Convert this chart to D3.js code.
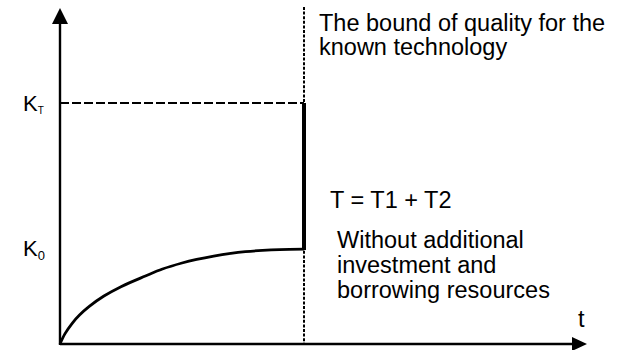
<!DOCTYPE html>
<html>
<head>
<meta charset="utf-8">
<script src="https://cdn.jsdelivr.net/npm/d3@7"></script>
<style>
  html, body { margin: 0; padding: 0; background: #fff; }
  #chart { width: 617px; height: 350px; }
  text { font-family: "Liberation Sans", Arial, sans-serif; fill: #000; }
</style>
</head>
<body>
<div id="chart"></div>
<script>
// time points and quality level of the curve (without extra investment)
const tValues = [0, 0.2, 0.5, 0.8, 1.2, 1.8, 2.5, 3.5, 4.2, 5, 5.6, 6.3, 7, 7.6, 8.3, 9, 10];
const kValues = [0, 4.2, 8.6, 12.0, 15.6, 19.9, 23.8, 28.2, 31.1, 33.6, 35.1, 36.5, 37.6, 38.3, 38.85, 39.2, 39.4];
const kLevels = [{ name: "K", sub: "T", value: 100 }, { name: "K", sub: "0", value: 39.4 }];
const tBound = 10;  // T = T1 + T2
const boundText = ["The bound of quality for the", "known technology"];
const noteText = ["Without additional", "investment and", "borrowing resources"];

function createChart() {
  const container = document.getElementById('chart');
  const width = 617, height = 350;

  const svg = d3.select(container)
    .append("svg")
    .attr("width", width)
    .attr("height", height);

  // scales: t -> px, K -> px
  const x = d3.scaleLinear().domain([0, tBound]).range([60, 304]);
  const y = d3.scaleLinear().domain([0, 100]).range([344, 103]);

  const x0 = x(0), y0 = y(0);
  const xEnd = 587, yTop = 8;

  // axes with arrows
  svg.append("line")
    .attr("x1", x0).attr("y1", y0)
    .attr("x2", xEnd - 14).attr("y2", y0)
    .attr("stroke", "#000").attr("stroke-width", 2.4);
  svg.append("path")
    .attr("d", `M${xEnd},${y0} L${xEnd - 15},${y0 - 7} L${xEnd - 15},${y0 + 7} Z`)
    .attr("fill", "#000");

  svg.append("line")
    .attr("x1", x0).attr("y1", y0 + 1)
    .attr("x2", x0).attr("y2", yTop + 14)
    .attr("stroke", "#000").attr("stroke-width", 2.4);
  svg.append("path")
    .attr("d", `M${x0},${yTop} L${x0 - 8},${yTop + 16} L${x0 + 8},${yTop + 16} Z`)
    .attr("fill", "#000");

  // dotted bound of technology
  svg.append("line")
    .attr("x1", x(tBound)).attr("y1", 7)
    .attr("x2", x(tBound)).attr("y2", y0)
    .attr("stroke", "#000").attr("stroke-width", 2)
    .attr("stroke-dasharray", "3,1.6");

  // dashed KT level
  svg.append("line")
    .attr("x1", x0).attr("y1", y(kLevels[0].value))
    .attr("x2", x(tBound)).attr("y2", y(kLevels[0].value))
    .attr("stroke", "#000").attr("stroke-width", 2)
    .attr("stroke-dasharray", "9,3");

  // jump from K0 to KT
  svg.append("line")
    .attr("x1", x(tBound)).attr("y1", y(kLevels[0].value))
    .attr("x2", x(tBound)).attr("y2", y(kLevels[1].value) + 1)
    .attr("stroke", "#000").attr("stroke-width", 4);

  // growth curve
  const pts = tValues.map((t, i) => [t, kValues[i]]);
  const line = d3.line()
    .x(d => x(d[0]))
    .y(d => y(d[1]))
    .curve(d3.curveCatmullRom.alpha(0.5));
  svg.append("path")
    .datum(pts)
    .attr("d", line)
    .attr("fill", "none")
    .attr("stroke", "#000")
    .attr("stroke-width", 2.8);

  // K labels
  kLevels.forEach((k, i) => {
    const t = svg.append("text")
      .attr("x", 23)
      .attr("y", y(k.value) + (i === 0 ? 8 : 7))
      .attr("font-size", "22px");
    t.append("tspan").text(k.name);
    t.append("tspan")
      .attr("dy", i === 0 ? 3 : 4)
      .attr("font-size", i === 0 ? "10px" : "13px")
      .text(k.sub);
  });

  // texts on the right
  svg.selectAll("text.bound")
    .data(boundText)
    .enter()
    .append("text")
    .attr("class", "bound")
    .attr("x", 319)
    .attr("y", (d, i) => 31 + i * 24)
    .attr("font-size", "23.5px")
    .text(d => d);

  svg.append("text")
    .attr("x", 330)
    .attr("y", 208)
    .attr("font-size", "23.5px")
    .text("T = T1 + T2");

  svg.selectAll("text.note")
    .data(noteText)
    .enter()
    .append("text")
    .attr("class", "note")
    .attr("x", 337)
    .attr("y", (d, i) => 248 + i * 25)
    .attr("font-size", "23.5px")
    .text(d => d);

  svg.append("text")
    .attr("x", 578)
    .attr("y", 327)
    .attr("font-size", "23.5px")
    .text("t");
}

createChart();
</script>
</body>
</html>
